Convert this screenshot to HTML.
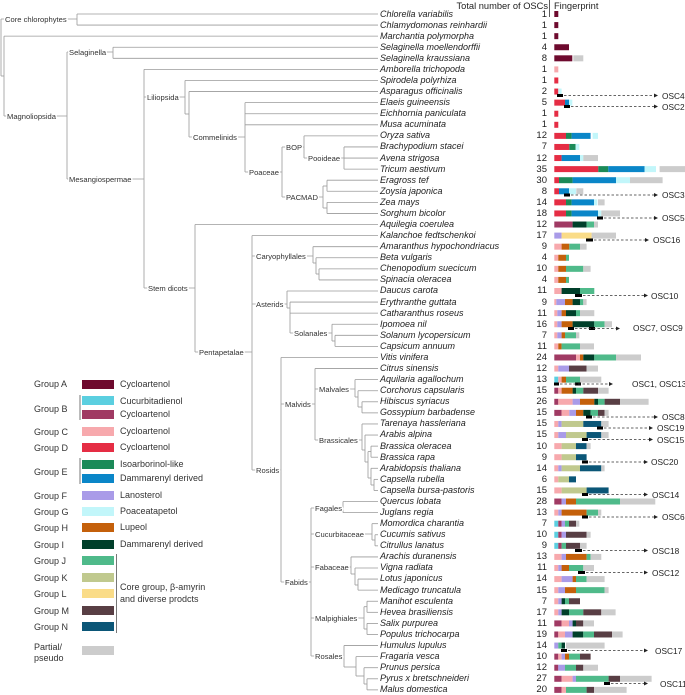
<!DOCTYPE html>
<html><head><meta charset="utf-8">
<style>
html,body{margin:0;padding:0;background:#fff;}
#w{position:relative;width:685px;height:695px;overflow:hidden;font-family:"Liberation Sans",sans-serif;}
svg{position:absolute;left:0;top:0;}
.sp{position:absolute;left:380px;top:8.5px;font-style:italic;font-size:9px;line-height:11.08px;color:#222;white-space:nowrap;}
.ct{position:absolute;left:520px;width:27px;top:8.5px;text-align:right;font-size:9.5px;line-height:11.08px;color:#222;}
.cl{font-size:7.6px;fill:#333;stroke:#fff;stroke-width:3px;paint-order:stroke;}
.lg{font-size:9px;fill:#333;}
.os{font-size:8.3px;fill:#222;}
</style></head><body><div id="w">
<svg id="s" width="685" height="695" xmlns="http://www.w3.org/2000/svg">
<g id="tree" stroke="#9a9a9a" stroke-width="0.8" fill="none"></g>
<g id="bars"></g>
<g id="ann"></g>
<g>
<text class="cl" x="5" y="22">Core chlorophytes</text>
<text class="cl" x="7" y="119">Magnoliopsida</text>
<text class="cl" x="69" y="55">Selaginella</text>
<text class="cl" x="69" y="182">Mesangiospermae</text>
<text class="cl" x="147" y="100">Liliopsida</text>
<text class="cl" x="193" y="140">Commelinids</text>
<text class="cl" x="249" y="175">Poaceae</text>
<text class="cl" x="286" y="150">BOP</text>
<text class="cl" x="308" y="161">Pooideae</text>
<text class="cl" x="286" y="200">PACMAD</text>
<text class="cl" x="148" y="291">Stem dicots</text>
<text class="cl" x="199" y="355">Pentapetalae</text>
<text class="cl" x="256" y="259">Caryophyllales</text>
<text class="cl" x="256" y="307">Asterids</text>
<text class="cl" x="294" y="336">Solanales</text>
<text class="cl" x="256" y="473">Rosids</text>
<text class="cl" x="285" y="407">Malvids</text>
<text class="cl" x="319" y="392">Malvales</text>
<text class="cl" x="319" y="443">Brassicales</text>
<text class="cl" x="285" y="585">Fabids</text>
<text class="cl" x="315" y="511">Fagales</text>
<text class="cl" x="315" y="537">Cucurbitaceae</text>
<text class="cl" x="315" y="570">Fabaceae</text>
<text class="cl" x="315" y="621">Malpighiales</text>
<text class="cl" x="315" y="659">Rosales</text>
</g>
<g>
<text x="548" y="9" font-size="9.3" fill="#222" text-anchor="end">Total number of OSCs</text>
<line x1="549.5" y1="0" x2="549.5" y2="17" stroke="#333" stroke-width="0.8"/>
<text x="554" y="9" font-size="9.3" fill="#222">Fingerprint</text>
</g>
<g class="lg">
<text x="34" y="387">Group A</text><rect x="82" y="380" width="32" height="9" fill="#6e0a2e"/><text x="120" y="387">Cycloartenol</text>
<text x="34" y="412">Group B</text><line x1="80" y1="395" x2="80" y2="420" stroke="#555" stroke-width="0.8"/>
<rect x="82" y="396" width="32" height="9" fill="#5bcfe0"/><text x="120" y="404">Cucurbitadienol</text>
<rect x="82" y="410" width="32" height="9" fill="#a03a63"/><text x="120" y="417">Cycloartenol</text>
<text x="34" y="435">Group C</text><rect x="82" y="427" width="32" height="9" fill="#f7a9ad"/><text x="120" y="434">Cycloartenol</text>
<text x="34" y="451">Group D</text><rect x="82" y="443" width="32" height="9" fill="#e52d44"/><text x="120" y="450">Cycloartenol</text>
<text x="34" y="475">Group E</text><line x1="80" y1="458" x2="80" y2="484" stroke="#555" stroke-width="0.8"/>
<rect x="82" y="460" width="32" height="9" fill="#1b8a58"/><text x="120" y="467">Isoarborinol-like</text>
<rect x="82" y="474" width="32" height="9" fill="#0a86c8"/><text x="120" y="481">Dammarenyl derived</text>
<text x="34" y="499">Group F</text><rect x="82" y="491" width="32" height="9" fill="#a99be8"/><text x="120" y="498">Lanosterol</text>
<text x="34" y="515">Group G</text><rect x="82" y="507" width="32" height="9" fill="#c2f6fa"/><text x="120" y="514">Poaceatapetol</text>
<text x="34" y="531">Group H</text><rect x="82" y="523" width="32" height="9" fill="#c4600b"/><text x="120" y="530">Lupeol</text>
<text x="34" y="548">Group I</text><rect x="82" y="540" width="32" height="9" fill="#003f2a"/><text x="120" y="547">Dammarenyl derived</text>
<text x="34" y="564">Group J</text><rect x="82" y="556" width="32" height="9" fill="#4fba8a"/>
<text x="34" y="581">Group K</text><rect x="82" y="573" width="32" height="9" fill="#c0c98e"/>
<text x="34" y="597">Group L</text><rect x="82" y="589" width="32" height="9" fill="#fadc88"/>
<text x="34" y="614">Group M</text><rect x="82" y="606" width="32" height="9" fill="#583e44"/>
<text x="34" y="630">Group N</text><rect x="82" y="622" width="32" height="9" fill="#0b5677"/>
<line x1="116.5" y1="554" x2="116.5" y2="633" stroke="#555" stroke-width="0.8"/>
<text x="120" y="590">Core group, β-amyrin</text>
<text x="120" y="602">and diverse prodcts</text>
<text x="34" y="650">Partial/</text><text x="34" y="661">pseudo</text>
<rect x="82" y="646" width="32" height="9" fill="#cccccc"/>
</g>
<g class="os">
<text x="662" y="99">OSC4</text>
<text x="662" y="110">OSC2</text>
<text x="662" y="198">OSC3</text>
<text x="662" y="221">OSC5</text>
<text x="653" y="243">OSC16</text>
<text x="651" y="299">OSC10</text>
<text x="633" y="331">OSC7, OSC9</text>
<text x="632" y="387">OSC1, OSC13</text>
<text x="662" y="420">OSC8</text>
<text x="657" y="431">OSC19</text>
<text x="657" y="443">OSC15</text>
<text x="651" y="465">OSC20</text>
<text x="652" y="498">OSC14</text>
<text x="662" y="520">OSC6</text>
<text x="652" y="554">OSC18</text>
<text x="652" y="576">OSC12</text>
<text x="655" y="654">OSC17</text>
<text x="660" y="687">OSC11</text>
</g>
</svg>
<div class="sp">Chlorella variabilis<br>Chlamydomonas reinhardii<br>Marchantia polymorpha<br>Selaginella moellendorffii<br>Selaginella kraussiana<br>Amborella trichopoda<br>Spirodela polyrhiza<br>Asparagus officinalis<br>Elaeis guineensis<br>Eichhornia paniculata<br>Musa acuminata<br>Oryza sativa<br>Brachypodium stacei<br>Avena strigosa<br>Tricum aestivum<br>Eragross tef<br>Zoysia japonica<br>Zea mays<br>Sorghum bicolor<br>Aquilegia coerulea<br>Kalanchoe fedtschenkoi<br>Amaranthus hypochondriacus<br>Beta vulgaris<br>Chenopodium suecicum<br>Spinacia oleracea<br>Daucus carota<br>Erythranthe guttata<br>Catharanthus roseus<br>Ipomoea nil<br>Solanum lycopersicum<br>Capsicum annuum<br>Vitis vinifera<br>Citrus sinensis<br>Aquilaria agallochum<br>Corchorus capsularis<br>Hibiscus syriacus<br>Gossypium barbadense<br>Tarenaya hassleriana<br>Arabis alpina<br>Brassica oleracea<br>Brassica rapa<br>Arabidopsis thaliana<br>Capsella rubella<br>Capsella bursa-pastoris<br>Quercus lobata<br>Juglans regia<br>Momordica charantia<br>Cucumis sativus<br>Citrullus lanatus<br>Arachis duranensis<br>Vigna radiata<br>Lotus japonicus<br>Medicago truncatula<br>Manihot esculenta<br>Hevea brasiliensis<br>Salix purpurea<br>Populus trichocarpa<br>Humulus lupulus<br>Fragaria vesca<br>Prunus persica<br>Pyrus x bretschneideri<br>Malus domestica</div>
<div class="ct">1<br>1<br>1<br>4<br>8<br>1<br>1<br>2<br>5<br>1<br>1<br>12<br>7<br>12<br>35<br>30<br>8<br>14<br>18<br>12<br>17<br>9<br>4<br>10<br>4<br>11<br>9<br>11<br>16<br>7<br>11<br>24<br>12<br>13<br>15<br>26<br>15<br>15<br>15<br>10<br>9<br>14<br>6<br>15<br>28<br>13<br>7<br>10<br>9<br>13<br>11<br>14<br>15<br>7<br>17<br>11<br>19<br>14<br>10<br>12<br>27<br>20</div>
</div>
<script>
var NS="http://www.w3.org/2000/svg";
function R(i){return 14+i*11.08;}
function el(p,t,a){var e=document.createElementNS(NS,t);for(var k in a)e.setAttribute(k,a[k]);p.appendChild(e);return e;}
var C={A:"#6e0a2e",b:"#5bcfe0",B:"#a03a63",C:"#f7a9ad",D:"#e52d44",E:"#1b8a58",e:"#0a86c8",F:"#a99be8",G:"#c2f6fa",H:"#c4600b",I:"#003f2a",J:"#4fba8a",K:"#c0c98e",L:"#fadc88",M:"#583e44",N:"#0b5677",X:"#cccccc"};
var D=[
"A0-4","A0-4","A0-4","A0-14.7","A0-18 X19-29","C0-4","D0-4","D0-4 G4-7.3","D0-10.7 e10.7-14.7 G14.7-18","D0-4","D0-4",
"D0-11.7 E11.7-17.3 e17.3-36.3 G38.3-43.7","D0-15 E15-21.3 G21.3-25","D0-7.3 e7.3-25.7 G25.7-29 X29-43.7",
"D0-44 E44-54 e54-90.3 G90.3-101.7 X105.3-131","D0-4.7 E4.7-18.3 e18.3-61.7 G61.7-75.7 X75.7-108.3",
"D0-4.7 e4.7-14.7 G14.7-21.7 X22-29","D0-11.7 E11.7-17.3 e17.3-39.7 G39.7-43 X43.7-50.3","D0-11.7 E11.7-17.3 e17.3-43.7 G43.7-47 X47-65.7",
"B0-18.3 I18.3-32.3 J32.3-39.7 X39.7-43.7","F0-7.3 L7.3-37.3 X37.3-61.7","C0-7.3 H7.3-15 J15-25.7 X25.7-32.3","C0-4 H4-11.7 J11.7-14.7",
"C0-4 H4-11.7 J11.7-29 X29-36.3","C0-4 H4-11.7 J11.7-14.7","C0-7.3 I7.3-25.7 J25.7-40","C0-2 F2-10.7 H10.7-18.3 I18.3-25.7 J25.7-29 X29-32.3",
"C0-3 F3-7.3 H7.3-11.7 I11.7-21.7 J21.7-25.7 X25.7-40","C0-3 F3-7.3 H7.3-18.3 I18.3-40 J40-50.3 X50.3-57.7","C0-3 F3-7.3 H7.3-10.7 J10.7-21.7 X21.7-25",
"C0-4 H4-7.3 J7.3-25.7 X25.7-39.7","B0-21.7 C21.7-25.7 H25.7-29 I29-40 J40-61.7 X61.7-86.7","C0-4 F4-14.7 M14.7-32.3 X32.3-43.7",
"b0-4 C4-7.3 H7.3-11.7 J11.7-25.7 X25.7-47","B0-4 C4-7.3 H7.3-18.3 I18.3-21.7 J21.7-29 M29-43.7 X43.7-54.3",
"B0-4 C4-18.3 F18.3-25.7 H25.7-40 I40-43.7 J43.7-50.3 M50.3-65.7 X65.7-94.3","B0-7.3 C7.3-15 F15-21.7 H21.7-29 I29-36.3 J36.3-43.7 M43.7-50.3 X50.3-54.3",
"C0-4 F4-7.3 K7.3-29 N29-47 X47-54.3","C0-4 F4-11.7 K11.7-32.3 N32.3-47 X47-54.3","C0-7.3 K7.3-21.7 N21.7-32.3 X32.3-36.3","C0-7.3 K7.3-21.7 N21.7-32.3",
"C0-4 F4-7.3 K7.3-25.7 N25.7-47 X47-50.3","C0-4 K4-14.7 N14.7-21.7","C0-7.3 K7.3-32.3 N32.3-54.3",
"B0-7.3 F7.3-11.7 H11.7-21.7 J21.7-65.7 X65.7-101","C0-4 F4-7.3 H7.3-32.3 J32.3-43.7 X43.7-47",
"b0-4 B4-7.3 F7.3-10.7 J10.7-14.7 M14.7-21.7 X21.7-25","b0-4 B4-7.3 F7.3-11.7 M11.7-32.3 X32.3-36.3","b0-4 B4-7.3 J7.3-11.7 M11.7-25.7 X25.7-32.3",
"C0-7.3 F7.3-11.7 H11.7-32.3 J32.3-36.3 X36.3-47","C0-4 F4-7.3 H7.3-14.7 J14.7-29 X29-39.7","C0-7.3 F7.3-18.3 H18.3-21.7 J21.7-32.3 X32.3-50.3",
"C0-4 F4-10.7 H10.7-21.7 J21.7-50.3 X50.3-54.3","C0-4 F4-7.3 I7.3-10.7 J10.7-14.7 M14.7-25.7","C0-4 F4-7.3 I7.3-14.7 J14.7-29 M29-47 X47-61.3",
"B0-7.3 C7.3-14.7 F14.7-18.3 I18.3-21.7 M21.7-29 X29-39.7","B0-4 C4-10.7 F10.7-18.3 I18.3-29 J29-39.7 M39.7-57.7 X57.7-68.3",
"F0-4 J4-7.3 I7.3-10.7 X11.7-50.3","B0-4 C4-7.3 F7.3-10.7 H10.7-14.7 J14.7-25.7 M25.7-36.3","B0-4 F4-10.7 J10.7-21.7 M21.7-29 X29-43.7",
"B0-7.3 C7.3-18.3 F18.3-21.7 J21.7-54.3 M54.3-65.7 X65.7-97.3","B0-7.3 C7.3-11.7 J11.7-32.3 M32.3-39.7 X39.7-72.3"];
var bg=document.getElementById("bars"),X0=554.3;
D.forEach(function(s,i){s.split(" ").forEach(function(t){var k=t[0],p=t.slice(1).split("-");var a=+p[0],b=+p[1];
el(bg,"rect",{x:X0+a,y:R(i)-3,width:b-a,height:6,fill:C[k]});});});
var tg=document.getElementById("tree");
function H(a,b,y){el(tg,"line",{x1:a,x2:b,y1:y,y2:y});}
function V(x,a,b){el(tg,"line",{x1:x,x2:x,y1:a,y2:b});}
function L(x,rows){rows.forEach(function(r){H(x,378,R(r));});}
V(1,19,76);H(1,4,76);V(4,R(2),116);L(4,[2]);H(4,67,116);H(1,77,19);
V(77,R(0),R(1));L(77,[0,1]);
V(67,52,179);H(67,113,52);V(113,R(3),R(4));L(113,[3,4]);H(67,144,179);
V(144,R(5),288);L(144,[5]);H(144,185,97);H(144,195,288);
V(185,R(6),114);L(185,[6]);H(185,189,114);V(189,R(7),137);L(189,[7]);H(189,245,137);
V(245,R(8),172);L(245,[8,9,10]);H(245,282,172);
V(282,147,197);H(282,304,147);H(282,323,197);
V(304,R(11),158);L(304,[11]);H(304,344,158);V(344,R(12),R(14));L(344,[12,13,14]);
V(323,186,208);H(323,327,186);V(327,R(15),R(16));H(323,327,208);V(327,R(17),R(18));L(327,[15,16,17,18]);
V(195,R(19),352);L(195,[19]);H(195,252,352);
V(252,R(20),470);L(252,[20]);H(252,313,256);H(252,287,304);H(252,281,470);
V(313,R(21),263);L(313,[21]);H(313,316,263);V(316,R(22),274);L(316,[22]);H(316,319,274);V(319,R(23),R(24));L(319,[23,24]);
V(287,R(25),308);L(287,[25]);H(287,290,308);V(290,R(26),333);L(290,[26,27]);H(290,332,333);
V(332,R(28),341);L(332,[28]);H(332,335,341);V(335,R(29),R(30));L(335,[29,30]);
V(281,R(31),582);L(281,[31]);H(281,315,404);H(281,311,582);
V(315,R(32),440);L(315,[32]);H(315,355,389);H(315,362,440);
V(355,R(33),397);L(355,[33]);H(355,358,397);V(358,R(34),407);L(358,[34]);H(358,362,407);V(362,R(35),R(36));L(362,[35,36]);
V(362,R(37),450);L(362,[37]);H(362,365,450);V(365,R(38),462);L(365,[38]);H(365,368,462);V(368,451.6,478);H(368,371,451.6);V(371,R(39),R(40));L(371,[39,40]);
H(368,371,478);V(371,R(41),485);L(371,[41]);H(371,374,485);V(374,R(42),R(43));L(374,[42,43]);
V(311,508,656);H(311,343,508);H(311,372,534);H(311,351,567);H(311,364,618);H(311,344,656);
V(343,R(44),R(45));L(343,[44,45]);
V(372,R(46),540);L(372,[46]);H(372,375,540);V(375,R(47),R(48));L(375,[47,48]);
V(351,R(49),574);L(351,[49]);H(351,355,574);V(355,R(50),585);L(355,[50]);H(355,358,585);V(358,R(51),R(52));L(358,[51,52]);
V(364,606.7,629);H(364,367,606.7);V(367,R(53),R(54));H(364,367,629);V(367,R(55),R(56));L(367,[53,54,55,56]);
V(344,R(57),667);L(344,[57]);H(344,356,667);V(356,R(58),676);L(356,[58]);H(356,364,676);V(364,R(59),684);L(364,[59]);H(364,367,684);V(367,R(60),R(61));L(367,[60,61]);
var ag=document.getElementById("ann");
var A=[[[[557,563]],95.5,658],[[[564,570]],106.5,658],[[[564,570]],195,658],[[[597,603]],218,658],[[[586,593]],240,649],[[[575,582]],295.5,648],
[[[568,574],[589,595]],328.5,620],[[[554,559],[575,581]],384,613],[[[586,592]],417,658],[[[597,603]],428,653],[[[582,588]],439.5,653],[[[582,588]],462,648],
[[[582,588]],494.5,648],[[[582,588]],517,658],[[[575,582]],550.5,648],[[[578,585]],572.5,648],[[[561,567]],650.5,648],[[[604,610]],683.5,648]];
A.forEach(function(a){var y=a[1];a[0].forEach(function(m){el(ag,"rect",{x:m[0],y:y-1.5,width:m[1]-m[0],height:3,fill:"#000"});});
var x1=a[0][0][1];el(ag,"line",{x1:x1+1,x2:a[2]-3,y1:y,y2:y,stroke:"#333","stroke-width":0.8,"stroke-dasharray":"2.5,2"});
el(ag,"path",{d:"M"+(a[2]-4)+" "+(y-2)+" L"+a[2]+" "+y+" L"+(a[2]-4)+" "+(y+2)+"Z",fill:"#222"});});
</script>
</body></html>
